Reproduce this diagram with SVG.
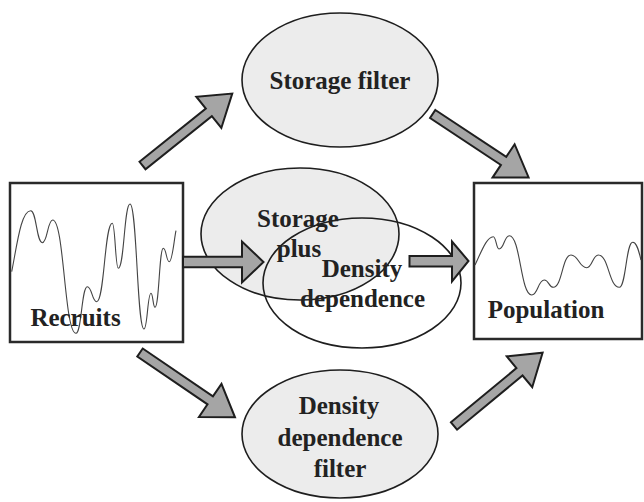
<svg xmlns="http://www.w3.org/2000/svg" width="644" height="502" viewBox="0 0 644 502">
<style>
.box{fill:#fff;stroke:#2a2a2a;stroke-width:2.5}
.ell{fill:#ececec;stroke:#1e1e1e;stroke-width:1.6}
.ell2{fill:none;stroke:#1e1e1e;stroke-width:1.6}
.wave{fill:none;stroke:#444;stroke-width:1.1}
.arr{fill:#a5a5a5;stroke:#1e1e1e;stroke-width:2;stroke-linejoin:miter}
.t{font-family:'Liberation Serif','Times New Roman',Times,'DejaVu Serif','Noto Serif',serif;font-weight:700;font-size:25px;fill:#222;text-anchor:middle}
</style>
<defs>
<path id="darrow" d="M0,-4.8 H85 V-20 L115,0 L85,20 V4.8 H0 Z"/>
</defs>
<rect width="644" height="502" fill="#fff"/>
<g id="recruits">
<rect class="box" x="10" y="183" width="173" height="159"/>
<path class="wave" d="M11.7,271.7 C17,245 21,210.7 30.7,210.7 C36.5,210.7 36.5,242.7 42.3,242.7 C47.5,242.7 47.5,220 52.7,220 C64.3,220 64.3,333.3 76,333.3 C81.6,333.3 81.6,286.7 87.3,286.7 C92,286.7 92,301.7 96.7,301.7 C104.5,301.7 104.5,223.3 112.3,223.3 C115.3,223.3 115.3,268.3 118.3,268.3 C124.2,268.3 124.2,204 130,204 C137,204 137,329 144,329 C147.5,329 147.5,293.3 151,293.3 C153,293.3 153,307.3 155,307.3 C159.2,307.3 159.2,248.3 163.3,248.3 C166.3,248.3 166.3,261.7 169.3,261.7 C172.3,261.7 174,240 176,230.7"/>
<text class="t" x="75.5" y="326">Recruits</text>
</g>
<g id="population">
<rect class="box" x="474" y="183" width="168" height="156"/>
<path class="wave" d="M475,265 C482,250 487,236.7 493.3,236.7 C496.2,236.7 496.2,249 499,249 C504.2,249 504.2,235.7 509.3,235.7 C520.5,235.7 520.5,295 531.7,295 C538,295 538,280 544.3,280 C548.8,280 548.8,287.3 553.3,287.3 C562.2,287.3 562.2,255 571,255 C578.8,255 578.8,267.7 586.7,267.7 C592.5,267.7 592.5,255 598.3,255 C608.8,255 608.8,287.3 619.3,287.3 C626,287.3 626,242.3 632.7,242.3 C637,242.3 639,252 641,260"/>
<text class="t" x="546" y="318">Population</text>
</g>
<g id="storage-filter">
<ellipse class="ell" cx="340" cy="80" rx="98" ry="67"/>
<text class="t" x="340" y="89">Storage filter</text>
</g>
<g id="density-filter">
<ellipse class="ell" cx="340" cy="434" rx="98" ry="64"/>
<text class="t" x="339" y="414">Density</text>
<text class="t" x="340" y="446">dependence</text>
<text class="t" x="340" y="477">filter</text>
</g>
<g id="storage-plus-density">
<ellipse class="ell" cx="300" cy="234" rx="99" ry="66"/>
<ellipse class="ell2" cx="362" cy="283" rx="99" ry="65"/>
<text class="t" x="298" y="227">Storage</text>
<text class="t" x="299" y="257">plus</text>
<text class="t" x="362" y="277">Density</text>
<text class="t" x="362.5" y="307">dependence</text>
</g>
<g id="connectors">
<use href="#darrow" class="arr" transform="translate(142.5,165.5) rotate(-38.7)"/>
<use href="#darrow" class="arr" transform="translate(432.7,114) rotate(33.5)"/>
<use href="#darrow" class="arr" transform="translate(140,352.5) rotate(34.3)"/>
<use href="#darrow" class="arr" transform="translate(454,426) rotate(-39.6)"/>
<polygon class="arr" points="183,256.8 242,256.8 242,241.5 263.5,262 242,282.5 242,267.2 183,267.2"/>
<polygon class="arr" points="409.5,256 452,256 452,241.5 468.5,261 452,281.5 452,266.5 409.5,266.5"/>
</g>
</svg>
